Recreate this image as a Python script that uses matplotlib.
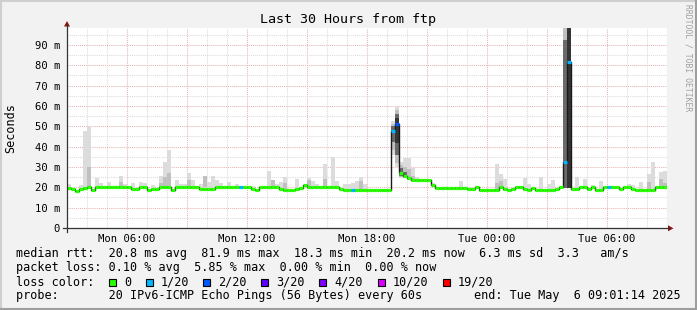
import numpy as np
import matplotlib
matplotlib.use('Agg')
from matplotlib import pyplot as plt
from matplotlib.lines import Line2D
from matplotlib.patches import Rectangle, Polygon
from matplotlib.ticker import MultipleLocator, FixedLocator

W, H = 697, 310
MONO = 'DejaVu Sans Mono'

# time axis in hours since Mon 00:00, one consolidated row every 12 minutes
start_hour = 3.0
step_hours = 0.2
end_hour = 33.0 + 1 / 60 + 14 / 3600      # Tue 09:01:14
x_tick_hours = [6, 12, 18, 24, 30]
x_tick_labels = ['Mon 06:00', 'Mon 12:00', 'Mon 18:00', 'Tue 00:00', 'Tue 06:00']
y_tick_ms = [0, 10, 20, 30, 40, 50, 60, 70, 80, 90]
y_tick_labels = ['0', '10 m', '20 m', '30 m', '40 m', '50 m', '60 m', '70 m', '80 m', '90 m']

# median rtt per row (ms)
median_ms = [
    19.8, 19.2, 18.3, 19.3, 19.5, 20.3, 18.9, 20.0, 20.0, 20.0,
    20.0, 20.0, 20.0, 20.0, 20.0, 20.0, 19.0, 19.4, 20.0, 20.0,
    18.9, 19.3, 19.4, 20.0, 20.0, 20.0, 18.9, 20.0, 20.0, 20.0,
    20.0, 20.0, 20.0, 19.0, 19.0, 19.0, 19.0, 20.0, 20.0, 20.0,
    20.0, 20.0, 20.0, 20.0, 20.0, 20.0, 19.3, 18.8, 20.0, 20.0,
    20.0, 20.0, 20.0, 19.3, 18.7, 18.7, 18.7, 19.2, 19.7, 21.3,
    20.0, 20.0, 20.0, 20.0, 20.0, 20.0, 20.0, 20.0, 19.0, 18.7,
    18.7, 18.7, 18.7, 18.7, 18.7, 18.7, 18.7, 18.7, 18.7, 18.7,
    18.7, 47.7, 51.3, 27.2, 25.7, 24.4, 23.6, 23.6, 23.6, 23.6,
    23.6, 21.1, 19.8, 19.8, 19.8, 19.8, 19.8, 19.8, 19.8, 19.8,
    19.0, 19.3, 20.2, 18.9, 18.9, 18.9, 18.9, 18.9, 20.0, 19.3,
    18.9, 19.3, 20.0, 20.0, 19.3, 18.5, 19.6, 18.7, 18.7, 18.7,
    18.7, 18.7, 19.3, 20.2, 32.3, 81.6, 19.3, 19.0, 20.0, 20.0,
    19.3, 20.0, 18.9, 18.9, 20.0, 20.0, 20.0, 20.0, 19.3, 20.0,
    20.0, 19.3, 18.7, 18.7, 18.7, 18.7, 18.7, 20.0, 20.0, 20.2,
]

# slowest ping per row (ms) - top of the light smoke
smoke_max_ms = [
    21.7, 19.2, 18.3, 21.2, 47.7, 50.1, 18.9, 24.6, 22.1, 20.0,
    22.6, 20.0, 20.0, 25.5, 21.7, 20.0, 22.1, 19.4, 22.6, 22.1,
    18.9, 21.2, 19.4, 25.5, 32.6, 38.4, 18.9, 23.6, 21.7, 21.7,
    26.9, 23.6, 20.0, 21.7, 25.5, 22.8, 25.5, 23.6, 22.1, 20.0,
    22.6, 20.0, 21.7, 20.0, 20.0, 20.0, 20.7, 18.8, 20.0, 20.0,
    27.8, 23.6, 21.5, 22.8, 25.0, 18.7, 18.7, 24.2, 19.7, 21.3,
    24.8, 23.3, 21.7, 20.0, 31.4, 20.0, 34.7, 23.3, 19.0, 21.7,
    21.7, 22.0, 23.3, 25.2, 21.5, 18.7, 18.7, 18.7, 18.7, 18.7,
    18.7, 52.8, 59.4, 32.6, 34.5, 34.5, 29.6, 25.2, 24.0, 24.0,
    24.0, 22.0, 19.8, 19.8, 19.8, 19.8, 19.8, 19.8, 23.1, 19.8,
    19.0, 19.3, 20.2, 18.9, 18.9, 18.9, 18.9, 31.5, 26.5, 24.0,
    18.9, 19.3, 20.0, 20.0, 24.8, 21.7, 19.6, 18.7, 25.3, 18.7,
    21.7, 23.6, 19.3, 20.2, 99.0, 99.0, 19.3, 25.2, 20.0, 24.1,
    19.3, 21.2, 18.9, 23.1, 20.0, 20.0, 20.0, 20.0, 19.3, 20.0,
    21.7, 21.0, 18.7, 22.6, 18.7, 26.6, 32.4, 20.0, 27.5, 28.0,
]

# rows where the fastest ping lies clearly below the median
smoke_floor_ms = {81: 35.9, 82: 30.1, 83: 24.4, 84: 24.5, 85: 23.5, 86: 23.2,
                  124: 19.7, 125: 19.7}

# inner smoke bands (row: (low, high)) in ms
mid_band = {5: (20.0, 30.0), 13: (20.0, 22.8), 23: (20.0, 22.0), 24: (20.0, 25.2),
            25: (20.0, 26.9), 30: (20.0, 23.6), 34: (20.0, 25.5), 51: (20.0, 23.6),
            54: (18.7, 22.0), 60: (20.0, 23.6), 64: (20.0, 24.0), 73: (18.7, 23.0),
            81: (38.5, 51.0), 82: (32.0, 58.0), 83: (25.0, 31.0), 84: (24.8, 30.0),
            85: (23.8, 29.0), 86: (23.4, 25.5), 107: (18.9, 22.0), 108: (20.0, 23.0),
            124: (19.7, 99.0), 125: (19.7, 99.0), 145: (18.7, 22.5), 148: (20.0, 24.0),
            149: (20.0, 22.0)}
dark_band = {81: (42.5, 50.0), 82: (36.0, 56.0), 83: (25.5, 29.5), 84: (25.0, 27.5),
             124: (19.7, 92.3), 125: (19.7, 99.0)}
core_band = {82: (42.0, 54.0), 125: (19.7, 99.0)}

# lost pings (out of 20) per row, all other rows lost none
lost_pings = {43: 1, 71: 1, 81: 1, 82: 2, 124: 1, 125: 1, 135: 1}

loss_levels = [0, 1, 2, 3, 4, 10, 19]
loss_labels = ['0', '1/20', '2/20', '3/20', '4/20', '10/20', '19/20']
loss_colors = ['#26ff00', '#00b8ff', '#0059ff', '#5e00ff', '#7e00ff', '#dd00ff', '#ff0000']

legend_rtt = 'median rtt:  20.8 ms avg  81.9 ms max  18.3 ms min  20.2 ms now  6.3 ms sd  3.3   am/s'
legend_loss = 'packet loss: 0.10 % avg  5.85 % max  0.00 % min  0.00 % now'
legend_probe = 'probe:       20 IPv6-ICMP Echo Pings (56 Bytes) every 60s'
legend_end = 'end: Tue May  6 09:01:14 2025'


def px(x, y):
    return x / W, 1 - y / H


def loss_color(n):
    c = loss_colors[0]
    for lvl, col in zip(loss_levels, loss_colors):
        if n >= lvl:
            c = col
    return c


fig = plt.figure(figsize=(W / 100, H / 100), dpi=100)
fig.patch.set_facecolor('#f2f2f2')

ax = fig.add_axes([67 / W, 82 / H, 600 / W, 200 / H])
ax.set_facecolor('white')
ax.set_xlim(end_hour - 30, end_hour)
ax.set_ylim(0, 98.36)

t = start_hour + step_hours * np.arange(len(median_ms))
med = np.array(median_ms)
floor = np.array([smoke_floor_ms.get(i, m) for i, m in enumerate(median_ms)])
top = np.array(smoke_max_ms)

ax.bar(t, top - floor, bottom=floor, width=step_hours, align='edge',
       color='#dcdcdc', linewidth=0, zorder=2)
for band, color in ((mid_band, '#c0c0c0'), (dark_band, '#6a6a6a'), (core_band, '#353535')):
    rows = sorted(band)
    lo = np.array([band[i][0] for i in rows])
    hi = np.array([band[i][1] for i in rows])
    ax.bar(t[rows], hi - lo, bottom=lo, width=step_hours, align='edge',
           color=color, linewidth=0, zorder=2)

ax.step(np.append(t, t[-1] + step_hours), np.append(med, med[-1]), where='post',
        color='#1a1a1a', lw=1.0, zorder=3)
colors = [loss_color(lost_pings.get(i, 0)) for i in range(len(med))]
ax.hlines(med, t, t + step_hours, colors=colors, lw=2.3, zorder=4, capstyle='butt')

# grid
ax.xaxis.set_major_locator(FixedLocator(np.arange(6, 34, 3)))
ax.xaxis.set_minor_locator(MultipleLocator(1))
ax.yaxis.set_major_locator(FixedLocator(y_tick_ms))
ax.yaxis.set_minor_locator(MultipleLocator(5))
ax.grid(which='minor', color='#dcdcdc', lw=0.75, ls=(0, (1, 1)), zorder=0)
ax.grid(which='major', color='#eab4b4', lw=0.75, ls=(0, (1, 1)), zorder=0)
ax.set_axisbelow(True)
ax.set_xticklabels(['' if h not in x_tick_hours else x_tick_labels[x_tick_hours.index(h)]
                    for h in np.arange(6, 34, 3)])
ax.set_yticklabels(y_tick_labels)
ax.tick_params(which='both', length=0)
ax.tick_params(axis='y', pad=5)
ax.tick_params(axis='x', pad=4)
for lab in ax.get_xticklabels() + ax.get_yticklabels():
    lab.set_fontfamily(MONO)
    lab.set_fontsize(7.6)
for s in ax.spines.values():
    s.set_visible(False)

# axes lines and arrows
fig.add_artist(Line2D(*zip(px(63, 228.3), px(669, 228.3)), color='#333333', lw=0.9))
fig.add_artist(Line2D(*zip(px(67, 232), px(67, 25)), color='#333333', lw=0.9))
fig.add_artist(Polygon([px(64, 26.5), px(70, 26.5), px(67, 21)], closed=True,
                       color='#8b1414', lw=0))
fig.add_artist(Polygon([px(668, 225.3), px(668, 231.3), px(673.5, 228.3)], closed=True,
                       color='#8b1414', lw=0))

# frame shading
fig.add_artist(Line2D(*zip(px(0, 0.7), px(W, 0.7)), color='#cfcfcf', lw=1.5))
fig.add_artist(Line2D(*zip(px(0.7, 0), px(0.7, H)), color='#cfcfcf', lw=1.5))
fig.add_artist(Line2D(*zip(px(0, H - 1), px(W, H - 1)), color='#9e9e9e', lw=1.5))
fig.add_artist(Line2D(*zip(px(W - 1, 0), px(W - 1, H)), color='#9e9e9e', lw=1.5))

fig.text(*px(348.5, 19), 'Last 30 Hours from ftp', family=MONO, fontsize=9.6,
         ha='center', va='center')
fig.text(*px(11, 128), 'Seconds', family=MONO, fontsize=8.5, rotation=90,
         ha='center', va='center')
fig.text(*px(688, 58), 'RRDTOOL / TOBI OETIKER', family=MONO, fontsize=5.8,
         rotation=270, ha='center', va='center', color='#a0a0a0')

fig.text(*px(16, 254), legend_rtt, family=MONO, fontsize=8.5, va='center')
fig.text(*px(16, 268), legend_loss, family=MONO, fontsize=8.5, va='center')
fig.text(*px(16, 282), 'loss color:', family=MONO, fontsize=8.5, va='center')
box_x = [109, 146, 203, 261, 319, 378, 443]
for bx, col, lab in zip(box_x, loss_colors, loss_labels):
    fig.add_artist(Rectangle(px(bx, 285.5), 7 / W, 7 / H, transform=fig.transFigure,
                             facecolor=col, edgecolor='black', lw=0.8))
    fig.text(*px(bx + 15, 282), lab, family=MONO, fontsize=8.5, va='center')
fig.text(*px(16, 296), legend_probe, family=MONO, fontsize=8.5, va='center')
fig.text(*px(681, 296), legend_end, family=MONO, fontsize=8.5, va='center', ha='right')

fig.savefig('out.png', dpi=100, facecolor=fig.get_facecolor())
